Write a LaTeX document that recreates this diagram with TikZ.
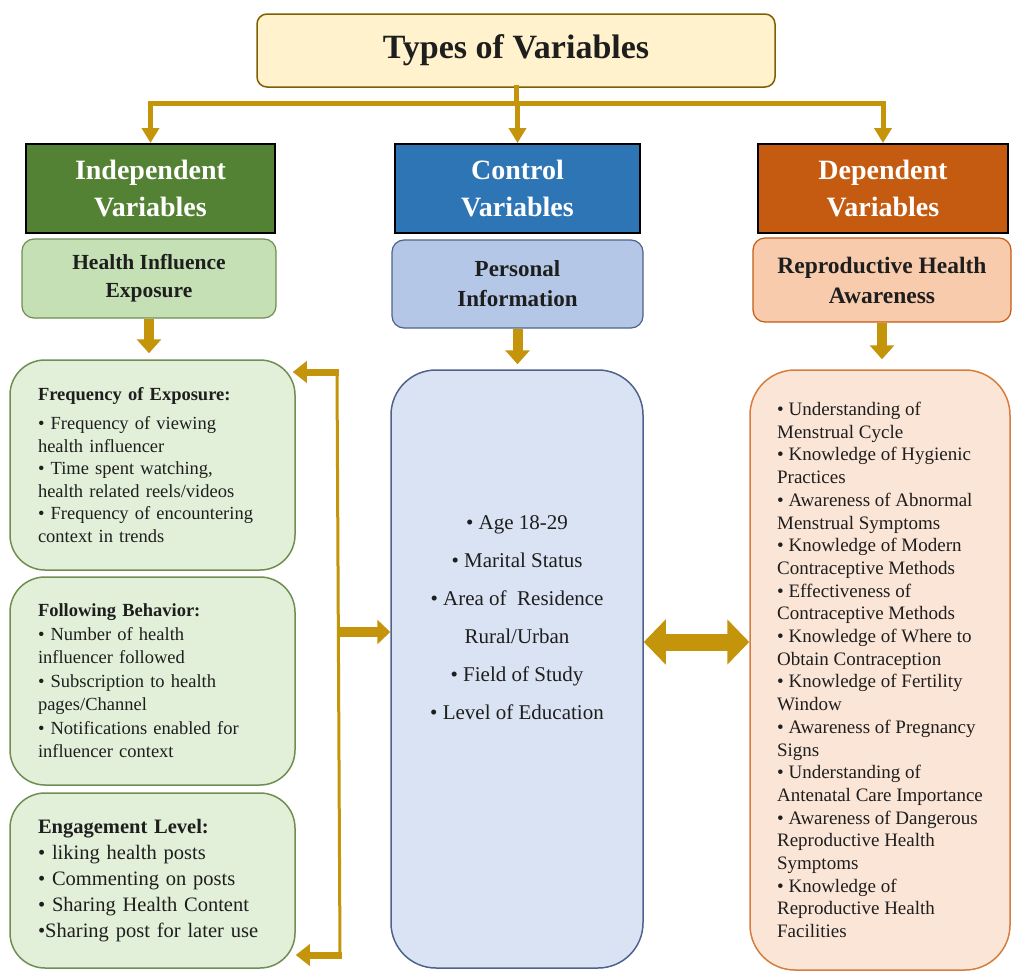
\documentclass[tikz,border=0pt]{standalone}
\usepackage{fontspec}
\setmainfont{Liberation Serif}
\usepackage{xcolor}
\usepackage{tikz}
\usetikzlibrary{arrows.meta,positioning}
\definecolor{gold1}{RGB}{196,148,10}
\definecolor{titlefill}{RGB}{255,242,204}
\definecolor{titleline}{RGB}{127,96,0}
\definecolor{green1}{RGB}{84,130,53}
\definecolor{blue1}{RGB}{46,117,182}
\definecolor{orange1}{RGB}{197,90,17}
\definecolor{green2}{RGB}{197,224,180}
\definecolor{blue2}{RGB}{180,199,231}
\definecolor{orange2}{RGB}{248,203,173}
\definecolor{green3}{RGB}{226,240,217}
\definecolor{blue3}{RGB}{218,227,243}
\definecolor{orange3}{RGB}{251,229,214}
\definecolor{greenline}{RGB}{112,142,82}
\definecolor{blueline}{RGB}{78,98,140}
\definecolor{orangeline}{RGB}{214,125,62}
\definecolor{ink}{RGB}{30,30,30}

\begin{document}
\begin{tikzpicture}[x=1pt,y=-1pt,
    hdrbox/.style={draw=black, line width=2pt, text=white, align=center,
      font=\bfseries\fontsize{28}{37}\selectfont, inner sep=0pt, minimum height=89pt},
    subbox/.style={rounded corners=12pt, line width=1.2pt, align=center, text=ink,
      font=\bfseries\fontsize{21}{29}\selectfont, inner sep=0pt},
    listbox/.style={rounded corners=35pt, line width=1.5pt, draw=greenline, fill=green3,
      text=ink, align=left, text width=229pt, inner xsep=28pt, inner ysep=0pt,
      minimum width=285pt, font=\fontsize{18.5}{22.5}\selectfont},
    goldbus/.style={draw=gold1, line width=5pt, line cap=rect},
    goldarrow/.style={draw=gold1, line width=5pt, -{Triangle[width=17pt,length=15pt]}},
    downarrow/.style={draw=gold1, line width=10pt, -{Triangle[width=24pt,length=14pt]}},
    sidearrow/.style={draw=gold1, line width=7pt, -{Triangle[width=21pt,length=14pt]}},
    bothways/.style={draw=gold1, line width=17pt,
      {Triangle[width=44pt,length=22pt]}-{Triangle[width=44pt,length=22pt]}}]

    \useasboundingbox[fill=white] (0,0) rectangle (1013,972);

    % Title
    \node[draw=titleline, fill=titlefill, line width=1.5pt, rounded corners=10pt,
      minimum width=518pt, minimum height=73pt, text=ink,
      font=\bfseries\fontsize{34}{38}\selectfont] (title) at (516,50.5) {Types of Variables};

    % Header boxes
    \node[hdrbox, fill=green1, minimum width=249pt] (indep) at (150.5,188.5) {Independent\\Variables};
    \node[hdrbox, fill=blue1, minimum width=245pt] (ctrl) at (517.5,188.5) {Control\\Variables};
    \node[hdrbox, fill=orange1, minimum width=250pt] (dep) at (883,188.5) {Dependent\\Variables};

    % Sub boxes
    \node[subbox, draw=greenline, fill=green2, minimum width=254pt, minimum height=79pt,
      font=\bfseries\fontsize{21.5}{28}\selectfont] (exposure) at (149,278.5) {Health Influence\\Exposure};
    \node[subbox, draw=blueline, fill=blue2, minimum width=251pt, minimum height=88pt,
      font=\bfseries\fontsize{23}{30}\selectfont] (personal) at (517.5,284) {Personal\\Information};
    \node[subbox, draw=orange1, fill=orange2, minimum width=258pt, minimum height=84pt,
      font=\bfseries\fontsize{23.5}{30}\selectfont] (awareness) at (882,280) {Reproductive Health\\Awareness};

    % Title connectors
    \coordinate (bus) at (516,103);
    \draw[goldbus] (title.south) -- (bus);
    \draw[goldbus] (indep.north |- bus) -- (dep.north |- bus);
    \draw[goldarrow] (indep.north |- bus) -- (indep.north);
    \draw[goldarrow] (ctrl.north |- bus) -- (ctrl.north);
    \draw[goldarrow] (dep.north |- bus) -- (dep.north);

    % Independent variables
    \node[listbox, minimum height=210pt] (freq) at (152.5,465) {%
      \textbf{Frequency of Exposure:}\\[7pt]
      • Frequency of viewing\\
      health influencer\\
      • Time spent watching,\\
      health related reels/videos\\
      • Frequency of encountering\\
      context in trends};
    \node[listbox, minimum height=208pt, font=\fontsize{18.5}{23.5}\selectfont] (follow) at (152.5,681) {%
      \textbf{Following Behavior:}\\
      • Number of health\\
      influencer followed\\
      • Subscription to health\\
      pages/Channel\\
      • Notifications enabled for\\
      influencer context};
    \node[listbox, minimum height=175pt, font=\fontsize{20.5}{26}\selectfont] (engage) at (152.5,880.5) {%
      \textbf{Engagement Level:}\\
      • liking health posts\\
      • Commenting on posts\\
      • Sharing Health Content\\
      •Sharing post for later use};

    % Control variables
    \node[draw=blueline, fill=blue3, line width=1.5pt, rounded corners=45pt,
      minimum width=252pt, minimum height=598pt] (ctrlbox) at (517,669) {};
    \node[align=center, text=ink, font=\fontsize{21}{38}\selectfont] (ctrllist) at (517,618) {%
      • Age 18-29\\
      • Marital Status\\
      • Area of\ \ Residence\\
      Rural/Urban\\
      • Field of Study\\
      • Level of Education};

    % Dependent variables
    \node[draw=orangeline, fill=orange3, line width=1.5pt, rounded corners=45pt,
      minimum width=260pt, minimum height=600pt, text=ink, align=left,
      inner xsep=0pt, font=\fontsize{19}{22.7}\selectfont] (depbox) at (880,670) {%
      • Understanding of\\
      Menstrual Cycle\\
      • Knowledge of Hygienic\\
      Practices\\
      • Awareness of Abnormal\\
      Menstrual Symptoms\\
      • Knowledge of Modern\\
      Contraceptive Methods\\
      • Effectiveness of\\
      Contraceptive Methods\\
      • Knowledge of Where to\\
      Obtain Contraception\\
      • Knowledge of Fertility\\
      Window\\
      • Awareness of Pregnancy\\
      Signs\\
      • Understanding of\\
      Antenatal Care Importance\\
      • Awareness of Dangerous\\
      Reproductive Health\\
      Symptoms\\
      • Knowledge of\\
      Reproductive Health\\
      Facilities};

    % Down arrows
    \draw[downarrow, shorten >=6pt] (exposure.south) -- (exposure.south |- freq.north);
    \draw[downarrow, shorten >=5pt] (personal.south) -- (personal.south |- ctrlbox.north);
    \draw[downarrow, shorten >=10pt] (awareness.south) -- (awareness.south |- depbox.north);

    % Bracket
    \coordinate (brtop) at (337,372);
    \coordinate (brbot) at (340,955);
    \coordinate (brmid) at (338,632);
    \draw[draw=gold1, line width=3pt] (brtop) -- (brbot);
    \draw[sidearrow] ([xshift=1.5pt]brtop) -- ([xshift=-3pt]freq.east |- brtop);
    \draw[sidearrow] ([xshift=1.5pt]brbot) -- (engage.east |- brbot);
    \draw[sidearrow, line width=10pt, -{Triangle[width=24pt,length=13pt]}] (brmid) -- (ctrlbox.west |- brmid);

    % Control <-> dependent
    \coordinate (mid) at (694,642);
    \draw[bothways] (ctrlbox.east |- mid) -- (depbox.west |- mid);
\end{tikzpicture}
\end{document}
